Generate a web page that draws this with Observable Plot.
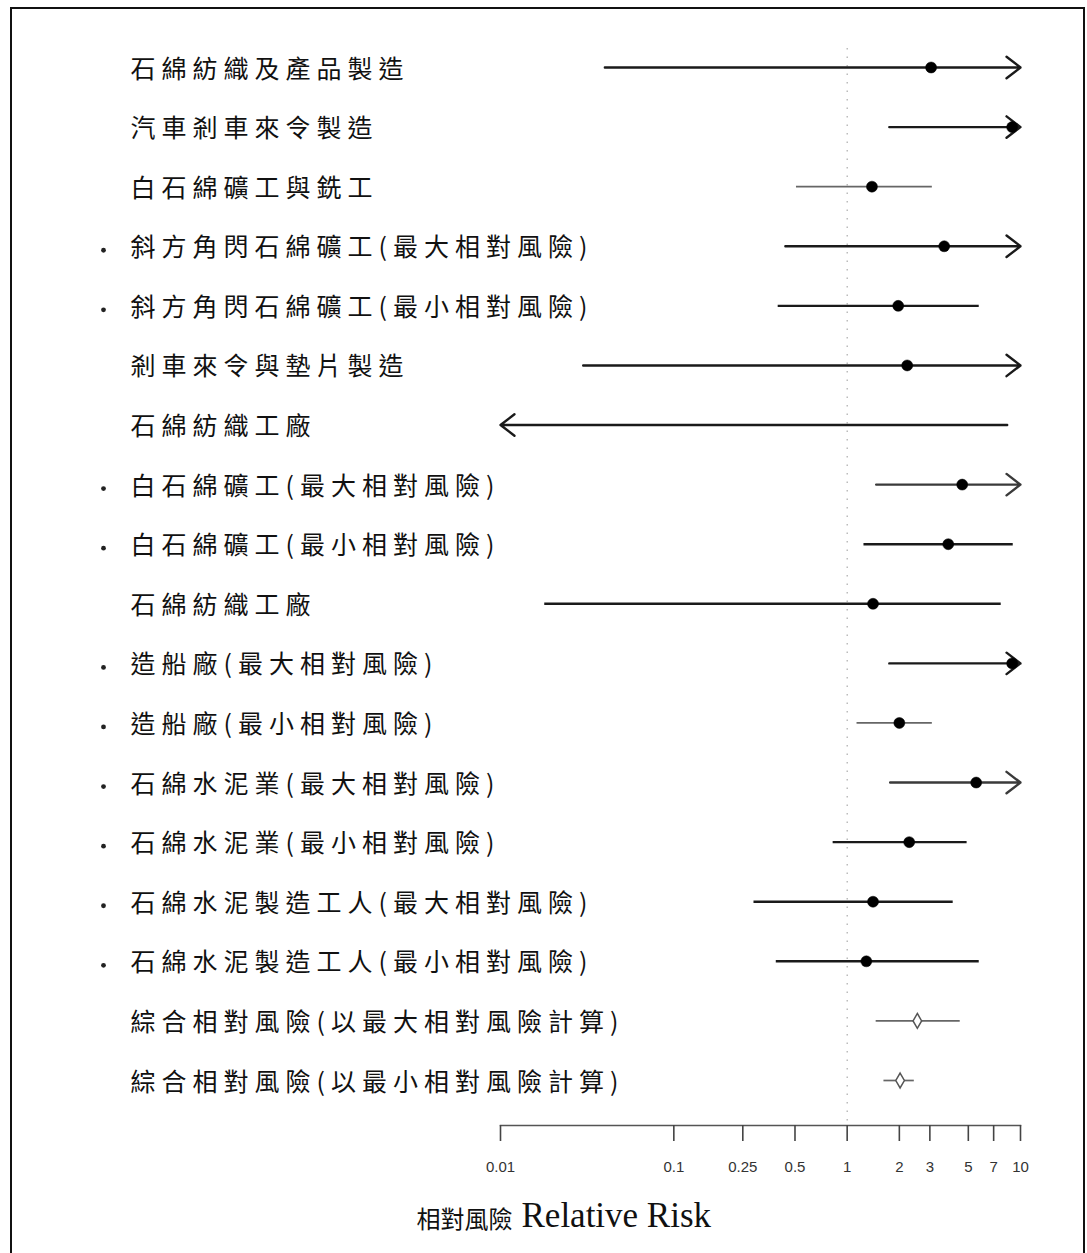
<!DOCTYPE html>
<html>
<head>
<meta charset="utf-8">
<script src="https://cdn.jsdelivr.net/npm/d3@7"></script>
<script src="https://cdn.jsdelivr.net/npm/@observablehq/plot@0.6"></script>
<style>
  html, body { margin: 0; padding: 0; background: #fff; overflow: hidden; }
  #wrap { position: relative; width: 1087px; height: 1253px; }
  #border { position: absolute; left: 10px; top: 7px; width: 1075px; height: 1300px;
            border-left: 2px solid #111; border-top: 2px solid #111; border-right: 2px solid #111; box-sizing: border-box; }
</style>
</head>
<body>
<div id="wrap"><div id="border"></div><div id="chart"></div></div>
<script>
// Study labels, top to bottom
const labels = [
  "石綿紡織及產品製造",
  "汽車剎車來令製造",
  "白石綿礦工與銑工",
  "斜方角閃石綿礦工(最大相對風險)",
  "斜方角閃石綿礦工(最小相對風險)",
  "剎車來令與墊片製造",
  "石綿紡織工廠",
  "白石綿礦工(最大相對風險)",
  "白石綿礦工(最小相對風險)",
  "石綿紡織工廠",
  "造船廠(最大相對風險)",
  "造船廠(最小相對風險)",
  "石綿水泥業(最大相對風險)",
  "石綿水泥業(最小相對風險)",
  "石綿水泥製造工人(最大相對風險)",
  "石綿水泥製造工人(最小相對風險)",
  "綜合相對風險(以最大相對風險計算)",
  "綜合相對風險(以最小相對風險計算)"
];
// Relative risk: lower CI, point estimate, upper CI (null = beyond axis → arrow)
const lower    = [0.040, 1.75, 0.51, 0.44, 0.40, 0.030, null, 1.47, 1.25, 0.018, 1.75, 1.14, 1.77, 0.83, 0.29, 0.39, 1.47, 1.63];
const estimate = [3.05, 8.95, 1.39, 3.63, 1.97, 2.22, null, 4.61, 3.83, 1.41, 8.95, 2.00, 5.55, 2.28, 1.41, 1.29, 2.54, 2.02];
const upper    = [null, null, 3.10, null, 5.78, null, 8.38, null, 9.08, 7.74, null, 3.10, null, 4.92, 4.09, 5.78, 4.49, 2.44];
// rows marked with a small bullet
const bulleted = [0,0,0,1,1,0,0,1,1,0,1,1,1,1,1,1,0,0];
// row type
const kind = ["study","study","study","study","study","study","study","study","study","study","study","study","study","study","study","study","pooled","pooled"];
// axis ticks
const tickValues = [0.01, 0.1, 0.25, 0.5, 1, 2, 3, 5, 7, 10];
const axisTitleZh = "相對風險";
const axisTitleEn = "Relative Risk";

const xMin = tickValues[0], xMax = tickValues[tickValues.length - 1];
const rows = labels.map((label, k) => ({
  i: k + 1, label, lo: lower[k], est: estimate[k], hi: upper[k],
  bullet: bulleted[k] === 1, kind: kind[k]
}));
const lightRows = new Set([3, 12, 17, 18]);
const strokeOf = d => lightRows.has(d.i) ? "#666" : (d.i === 8 || d.i === 13 ? "#3a3a3a" : "#1a1a1a");
const widthOf = d => lightRows.has(d.i) ? 1.7 : 2.4;

const closed = rows.filter(d => d.lo != null && d.hi != null);
const openRight = rows.filter(d => d.lo != null && d.hi == null);
const openLeft = rows.filter(d => d.lo == null && d.hi != null);

const chart = Plot.plot({
  width: 1087,
  height: 1253,
  marginLeft: 500,
  marginRight: 67,
  marginTop: 48,
  marginBottom: 128,
  style: { background: "transparent", overflow: "visible" },
  x: { type: "log", domain: [xMin, xMax], axis: null },
  y: { domain: [1, rows.length], range: [67, 1080], axis: null },
  marks: [
    Plot.ruleX([1], { stroke: "#999", strokeWidth: 1, strokeDasharray: "1.5,7" }),
    Plot.frame({ anchor: "bottom", stroke: "#555", strokeWidth: 1.5 }),
    Plot.axisX({ ticks: tickValues, tickFormat: () => "", tickSize: 16, tickPadding: 22,
                 stroke: "#444", strokeWidth: 1.6, label: null }),
    Plot.text(tickValues, { x: d => d, text: d => String(d), frameAnchor: "bottom", dy: 46,
                            fontSize: 15, fontFamily: "Liberation Sans, Arial, sans-serif", fill: "#333" }),
    Plot.ruleY(closed, { y: "i", x1: "lo", x2: "hi", stroke: strokeOf, strokeWidth: widthOf }),
    Plot.arrow(openRight, { x1: "lo", x2: () => xMax, y1: "i", y2: "i", stroke: strokeOf,
                            strokeWidth: 2.4, headLength: 11, headAngle: 75 }),
    Plot.arrow(openLeft, { x1: "hi", x2: () => xMin, y1: "i", y2: "i", stroke: strokeOf,
                           strokeWidth: 2.4, headLength: 11, headAngle: 75 }),
    Plot.dot(rows.filter(d => d.est != null && d.kind === "study"),
             { x: "est", y: "i", r: 5.5, fill: "#000", stroke: "#000", strokeWidth: 0.5 }),
    Plot.dot(rows.filter(d => d.kind === "pooled"),
             { x: "est", y: "i", r: 4.5, symbol: "diamond", fill: "#fff", stroke: "#555", strokeWidth: 1.5 }),
    Plot.text(rows, { y: "i", text: "label", frameAnchor: "left", dx: -370, dy: 2, textAnchor: "start",
                      fontSize: 25, fontFamily: "Noto Sans CJK TC", fill: "#111" }),
    Plot.dot(rows.filter(d => d.bullet), { y: "i", frameAnchor: "left", dx: -397, dy: 4, r: 2.4, fill: "#222", stroke: "none" }),
    Plot.text([axisTitleZh], { frameAnchor: "bottom-left", dx: 12, dy: 102, textAnchor: "end",
                               fontSize: 24, fontFamily: "Noto Sans CJK TC", fill: "#111" }),
    Plot.text([axisTitleEn], { frameAnchor: "bottom-left", dx: 21, dy: 101, textAnchor: "start",
                               fontSize: 35, fontFamily: "Liberation Serif, Times New Roman, serif", fill: "#111" })
  ]
});
// widen the spacing of the row labels, as in the original
const labelSet = new Set(labels);
chart.querySelectorAll("text").forEach(t => {
  if (labelSet.has(t.textContent)) {
    t.setAttribute("letter-spacing", "6");
    t.style.letterSpacing = "6px";
  }
});
document.getElementById("chart").appendChild(chart);
</script>
</body>
</html>
